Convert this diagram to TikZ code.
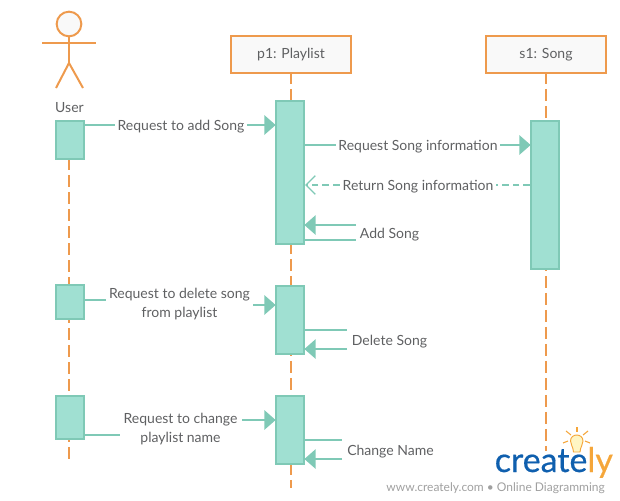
\documentclass[tikz,border=0pt]{standalone}
\usepackage{fontspec}
\setmainfont{Lato}
\newfontfamily\logofont[FakeBold=0.5]{Lato}
\usetikzlibrary{arrows.meta}
\definecolor{orangeline}{HTML}{EE9A4D}
\definecolor{tealline}{HTML}{7FC9B6}
\definecolor{tealfill}{HTML}{A0E0D2}
\definecolor{headfill}{HTML}{F9F9F9}
\definecolor{txt}{HTML}{5F6062}
\definecolor{logoblue}{HTML}{0F5FAE}
\definecolor{logoorange}{HTML}{F5A63A}
\definecolor{bulbfill}{HTML}{FFF6C4}
\definecolor{graytxt}{HTML}{A0A0A0}
\tikzset{
  headbox/.style={draw=orangeline,fill=headfill,line width=1.5pt,minimum width=90pt,minimum height=27.5pt,inner sep=0pt,text=txt,font=\fontsize{10.5}{13}\selectfont},
  actbox/.style={draw=tealline,fill=tealfill,line width=1.5pt,minimum width=21pt,inner sep=0pt},
  lifeline/.style={draw=orangeline,line width=1.5pt,dash pattern=on 9pt off 3.75pt},
  msg/.style={draw=tealline,line width=1.5pt},
  sync/.style={msg,-{Triangle[length=8.5pt,width=14.5pt,fill=tealline]},shorten >=-0.5pt},
  ret/.style={draw=tealline,line width=1pt,dash pattern=on 5pt off 3pt},
  lbl/.style={text=txt,font=\fontsize{10.5}{14.3}\selectfont,inner sep=2pt,align=center},
  actorline/.style={draw=orangeline,line width=1.5pt},
  ray/.style={draw=logoorange,line width=0.8pt},
}
\begin{document}
\begin{tikzpicture}[x=0.75pt,y=-0.75pt]
\useasboundingbox (0,0) rectangle (620,500);
\coordinate (uStart) at (69,158);
\coordinate (uEnd) at (69,459);
\coordinate (pEnd) at (291,488);
\coordinate (sEnd) at (546,451);
% heads
\node[headbox] (p) at (291,54.5) {\raisebox{-0.75pt}{p1: Playlist}};
\node[headbox] (s) at (546,54.5) {\raisebox{-0.75pt}{s1: Song}};
% actor
\node[circle,draw=orangeline,fill=headfill,line width=1.5pt,minimum size=18.5pt,inner sep=0pt] (head) at (69,24) {};
\coordinate (hip) at (69,63);
\coordinate (armL) at (42,43);
\coordinate (armR) at (96,43);
\coordinate (legL) at (56,88);
\coordinate (legR) at (83,88);
\draw[actorline] (head.south) -- (hip);
\draw[actorline] (armL) -- (armR);
\draw[actorline] (legL) -- (hip) -- (legR);
\node[lbl] (user) at (69.5,108) {User};
% lifelines
\draw[lifeline,dash phase=1.5pt] (p.south) -- (pEnd);
\draw[lifeline,dash phase=1.5pt] (s.south) -- (sEnd);
\draw[lifeline] (uStart) -- (uEnd);
% activations
\node[actbox,minimum height=28.5pt] (u1) at (70,140) {};
\node[actbox,minimum height=25.5pt] (u2) at (70,302) {};
\node[actbox,minimum height=32.25pt] (u3) at (70,417.5) {};
\node[actbox,minimum height=107.25pt] (p1) at (290,172.5) {};
\node[actbox,minimum height=51pt] (p2) at (290,320) {};
\node[actbox,minimum height=51pt] (p3) at (290,430) {};
\node[actbox,minimum height=111pt] (s1) at (545,195) {};
% message 1
\coordinate (y1) at (0,125);
\node[lbl] (m1) at (181,127) {Request to add Song};
\draw[msg] (u1.east |- y1) -- (m1.west |- y1);
\draw[sync] (m1.east |- y1) -- (p1.west |- y1);
% message 2
\coordinate (y2) at (0,145);
\node[lbl] (m2) at (418,147) {Request Song information};
\draw[msg] (p1.east |- y2) -- (m2.west |- y2);
\draw[sync] (m2.east |- y2) -- (s1.west |- y2);
% return
\coordinate (y3) at (0,185);
\node[lbl] (m3) at (418,187) {Return Song information};
\draw[ret] (s1.west |- y3) -- (m3.east |- y3);
\draw[ret,-{Straight Barb[length=7pt,width=14pt,line width=1pt]}] (m3.west |- y3) -- (p1.east |- y3);
% add song
\node[lbl] (m4) at (389.5,235) {Add Song};
\coordinate (m4a) at (356,240);
\coordinate (m4b) at (356,225);
\draw[msg] (p1.east |- m4a) -- (m4a);
\draw[sync] (m4b) -- (p1.east |- m4b);
% delete request
\node[lbl] (m5) at (179.5,304.5) {Request to delete song\\from playlist};
\coordinate (m5a) at (106,300);
\coordinate (m5b) at (253,305);
\draw[msg] (u2.east |- m5a) -- (m5a);
\draw[sync] (m5b) -- (p2.west |- m5b);
% delete song
\node[lbl] (m6) at (389.5,342) {Delete Song};
\coordinate (m6a) at (347,330);
\coordinate (m6b) at (347,349);
\draw[msg] (p2.east |- m6a) -- (m6a);
\draw[sync] (m6b) -- (p2.east |- m6b);
% change request
\node[lbl] (m7) at (180.5,429.5) {Request to change\\playlist name};
\coordinate (m7a) at (120,435);
\coordinate (m7b) at (242,420);
\draw[msg] (u3.east |- m7a) -- (m7a);
\draw[sync] (m7b) -- (p3.west |- m7b);
% change name
\node[lbl] (m8) at (390.5,452) {Change Name};
\coordinate (m8a) at (342,440);
\coordinate (m8b) at (342,459);
\draw[msg] (p3.east |- m8a) -- (m8a);
\draw[sync] (m8b) -- (p3.east |- m8b);
% logo bulb
\draw[draw=logoorange,fill=bulbfill,line width=0.7pt] (573.5,452) .. controls (573,446) and (570.5,445) .. (570.5,441) .. controls (570.5,433) and (583,433) .. (583,441) .. controls (583,445) and (580.5,446) .. (580,452) -- cycle;
\draw[ray] (577,427) -- (577,432);
\draw[ray] (566,431) -- (571,435);
\draw[ray] (588,431) -- (583,435);
\draw[ray] (563,443) -- (568,441);
\draw[ray] (590,443) -- (585,441);
% logo text
\node[anchor=base west,inner sep=0pt,font=\fontsize{25.5}{30}\logofont] (logo) at (494.5,472) {\textcolor{logoblue}{create}\textcolor{logoorange}{ly}};
\node[anchor=base east,inner sep=0pt,text=graytxt,font=\fontsize{9}{10}\selectfont] (web) at (605,491) {www.creately.com • Online Diagramming};
\end{tikzpicture}
\end{document}
